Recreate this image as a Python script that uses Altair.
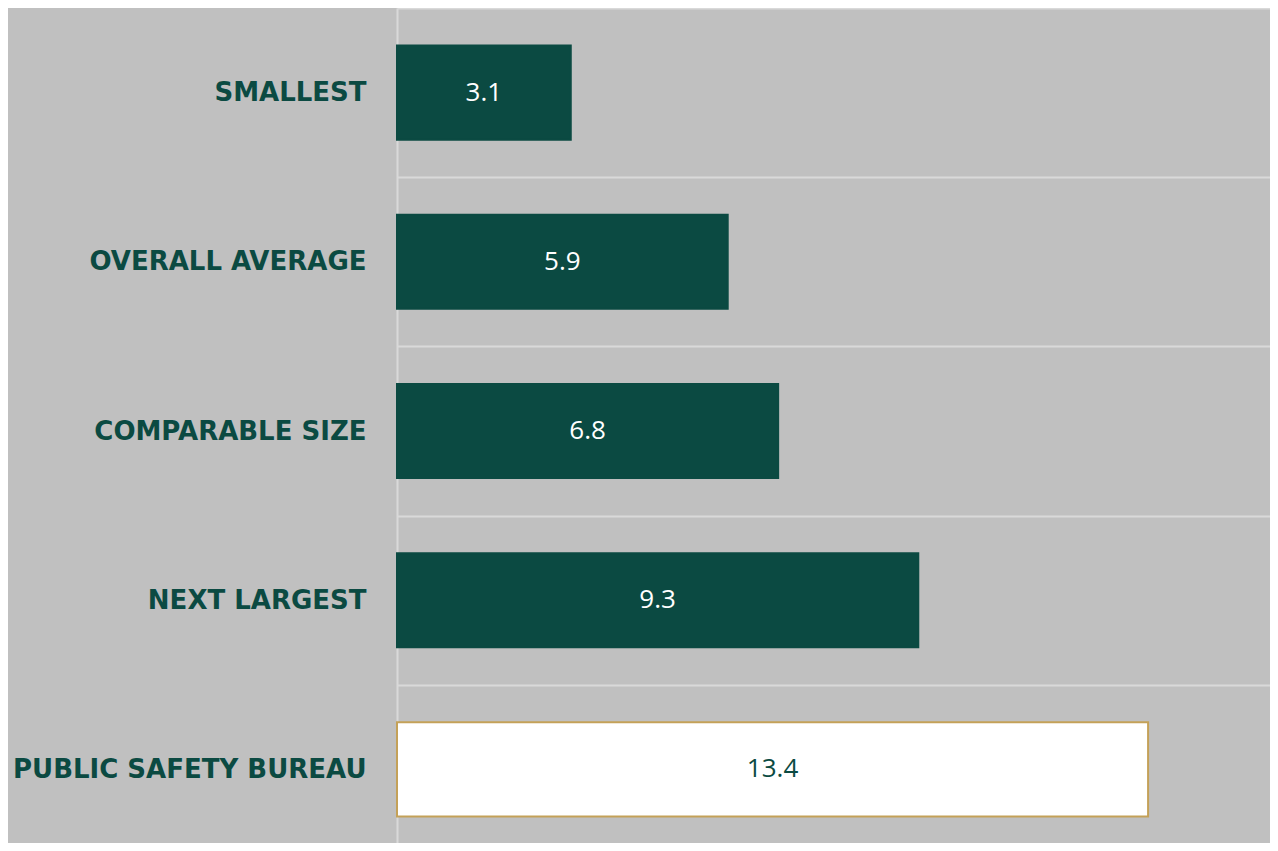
import altair as alt
import pandas as pd

categories = ["SMALLEST", "OVERALL AVERAGE", "COMPARABLE SIZE", "NEXT LARGEST", "PUBLIC SAFETY BUREAU"]
values = [3.1, 5.9, 6.8, 9.3, 13.4]
groups = ["peer", "peer", "peer", "peer", "bureau"]

GREEN = "#0b4a42"
GOLD = "#c4a158"
GRID = "#d9d9d9"
BG = "#c0c0c0"

df = pd.DataFrame({"category": categories, "value": values, "group": groups})

y_scale = alt.Scale(paddingInner=0, paddingOuter=0, range=[0, 846])
x_scale = alt.Scale(domain=[0, 15.575], nice=False, zero=True)

y_enc = alt.Y(
    "category:N",
    sort=categories,
    scale=y_scale,
    axis=alt.Axis(
        title=None,
        ticks=False,
        grid=True,
        tickBand="extent",
        gridColor=GRID,
        gridWidth=2,
        domain=True,
        domainColor=GRID,
        domainWidth=2,
        labelFont="DejaVu Sans",
        labelFontWeight="bold",
        labelFontSize=26,
        labelColor=GREEN,
        labelPadding=31,
        labelLimit=0,
    ),
)

bars = alt.Chart(df).mark_bar(height=alt.RelativeBandSize(0.556), strokeWidth=2).encode(
    x=alt.X("value:Q", scale=x_scale, axis=None),
    y=y_enc,
    fill=alt.Fill("group:N", scale=alt.Scale(domain=["peer", "bureau"], range=[GREEN, "#ffffff"]), legend=None),
    stroke=alt.Stroke("group:N", scale=alt.Scale(domain=["peer", "bureau"], range=[GREEN, GOLD]), legend=None),
)

labels = alt.Chart(df).transform_calculate(
    mid="datum.value / 2"
).mark_text(font="Open Sans", fontSize=26, align="center", baseline="middle").encode(
    x=alt.X("mid:Q", scale=x_scale, axis=None),
    y=alt.Y("category:N", sort=categories, scale=y_scale),
    text=alt.Text("value:Q", format=".1f"),
    color=alt.Color("group:N", scale=alt.Scale(domain=["peer", "bureau"], range=["#ffffff", GREEN]), legend=None),
)

chart = (
    alt.layer(bars, labels)
    .resolve_scale(color="independent")
    .properties(
        width=873,
        height=835,
        background=BG,
        padding={"left": 389, "top": 0, "right": 0, "bottom": 0},
        autosize=alt.AutoSizeParams(type="none"),
    )
    .configure_view(strokeWidth=0)
)

chart.save("out.html", embed_options={"renderer": "svg", "actions": False})
